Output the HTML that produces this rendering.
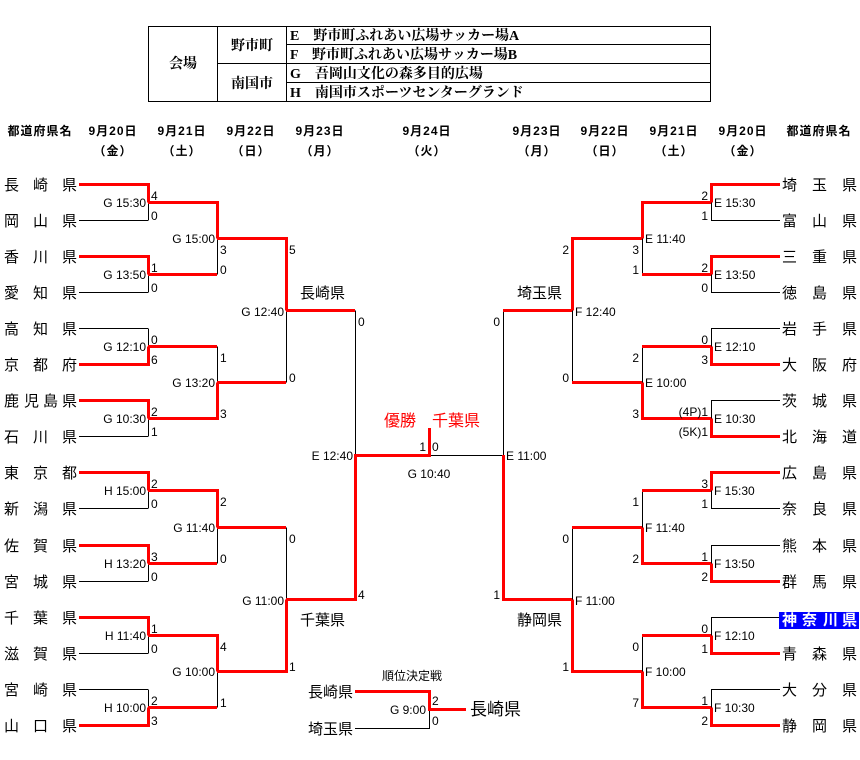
<!DOCTYPE html>
<html><head><meta charset="utf-8"><style>
html,body{margin:0;padding:0;background:#fff;width:860px;height:760px;overflow:hidden}
svg{display:block}
text{font-family:"Liberation Sans","Noto Sans CJK JP",sans-serif;fill:#000}
.t{font-size:12px}
.n{font-size:15px}
.h{font-size:12px;font-weight:bold;letter-spacing:1px}
.tb{font-family:"Liberation Serif","Noto Serif CJK JP","Noto Serif CJK SC",serif;font-size:14px;font-weight:bold}
.k{stroke:#000;stroke-width:1;fill:none}
.r{stroke:#f00;stroke-width:3;fill:none}
</style></head><body>
<svg width="860" height="760" viewBox="0 0 860 760" xmlns="http://www.w3.org/2000/svg">
<g class="k">
<rect x="148.5" y="26.5" width="562" height="75"/>
<line x1="217.5" y1="26.5" x2="217.5" y2="101.5"/>
<line x1="286.5" y1="26.5" x2="286.5" y2="101.5"/>
<line x1="217.5" y1="63.5" x2="710.5" y2="63.5"/>
<line x1="286.5" y1="44.5" x2="710.5" y2="44.5"/>
<line x1="286.5" y1="82.5" x2="710.5" y2="82.5"/>
</g>
<text class="tb" x="183" y="68" text-anchor="middle">会場</text>
<text class="tb" x="252" y="50" text-anchor="middle">野市町</text>
<text class="tb" x="252" y="88" text-anchor="middle">南国市</text>
<text class="tb" x="290" y="40">E　野市町ふれあい広場サッカー場A</text>
<text class="tb" x="290" y="59">F　野市町ふれあい広場サッカー場B</text>
<text class="tb" x="290" y="78">G　吾岡山文化の森多目的広場</text>
<text class="tb" x="290" y="97">H　南国市スポーツセンターグランド</text>

<g class="h" text-anchor="middle">
<text x="40" y="135">都道府県名</text>
<text x="113" y="135">9月20日</text><text x="113" y="155">（金）</text>
<text x="182" y="135">9月21日</text><text x="182" y="155">（土）</text>
<text x="251" y="135">9月22日</text><text x="251" y="155">（日）</text>
<text x="320" y="135">9月23日</text><text x="320" y="155">（月）</text>
<text x="427" y="135">9月24日</text><text x="427" y="155">（火）</text>
<text x="537" y="135">9月23日</text><text x="537" y="155">（月）</text>
<text x="605" y="135">9月22日</text><text x="605" y="155">（日）</text>
<text x="674" y="135">9月21日</text><text x="674" y="155">（土）</text>
<text x="743" y="135">9月20日</text><text x="743" y="155">（金）</text>
<text x="819" y="135">都道府県名</text>
</g>

<g class="k">
<path d="M79 220.5H148M79 292.5H148M79 328.5H148M79 436.5H148M79 508.5H148M79 581.5H148M79 653.5H148M79 689.5H148"/>
<path d="M148.5 202.5V220.5M148.5 274.5V292.5M148.5 328.5V346.5M148.5 418.5V436.5M148.5 490.5V508.5M148.5 563.5V581.5M148.5 635.5V653.5M148.5 689.5V707.5"/>
<path d="M217.5 238.5V274.5M217.5 346.5V382.5M217.5 527.5V563.5M217.5 671.5V707.5"/>
<path d="M286.5 310.5V382.5M286.5 527.5V599.5"/>
<path d="M355.5 310.5V455"/>
<path d="M711 220.5H780M711 292.5H780M711 328.5H780M711 400.5H780M711 508.5H780M711 545.5H780M711 617.5H780M711 689.5H780"/>
<path d="M711.5 202.5V220.5M711.5 274.5V292.5M711.5 328.5V346.5M711.5 400.5V418.5M711.5 490.5V508.5M711.5 545.5V563.5M711.5 617.5V635.5M711.5 689.5V707.5"/>
<path d="M642.5 238.5V274.5M642.5 346.5V382.5M642.5 490.5V527.5M642.5 635.5V671.5"/>
<path d="M572.5 310.5V382.5M572.5 527.5V599.5"/>
<path d="M503.5 310.5V455"/>
<path d="M429 455.5H503"/>
<path d="M355 728.5H429.5V709.5"/>
</g>

<g class="r">
<path d="M79 184.5H148.5V202.5M79 256.5H148.5V274.5M79 364.5H148.5V346.5M79 400.5H148.5V418.5M79 472.5H148.5V490.5M79 545.5H148.5V563.5M79 617.5H148.5V635.5M79 725.5H148.5V707.5"/>
<path d="M148 202.5H217.5V238.5M148 274.5H217M148 346.5H217M148 418.5H217.5V382.5M148 490.5H217.5V527.5M148 563.5H217M148 635.5H217.5V671.5M148 707.5H217"/>
<path d="M217 238.5H286.5V310.5M217 382.5H286M217 527.5H286M217 671.5H286.5V599.5"/>
<path d="M286 310.5H355M286 599.5H355.5V455.5H429.5V428"/>
<path d="M780 184.5H711.5V202.5M780 256.5H711.5V274.5M780 364.5H711.5V346.5M780 436.5H711.5V418.5M780 472.5H711.5V490.5M780 581.5H711.5V563.5M780 653.5H711.5V635.5M780 725.5H711.5V707.5"/>
<path d="M711 202.5H642.5V238.5M711 274.5H642M711 346.5H642M711 418.5H642.5V382.5M711 490.5H642M711 563.5H642.5V527.5M711 635.5H642M711 707.5H642.5V671.5"/>
<path d="M642 238.5H572.5V310.5M642 382.5H572M642 527.5H572M642 671.5H572.5V599.5"/>
<path d="M572 310.5H503M572 599.5H503.5V455"/>
<path d="M355 691.5H429.5V709.5H466"/>
</g>

<g class="n">
<text y="190"><tspan x="4">長</tspan><tspan x="33">崎</tspan><tspan x="62">県</tspan></text>
<text y="226"><tspan x="4">岡</tspan><tspan x="33">山</tspan><tspan x="62">県</tspan></text>
<text y="262"><tspan x="4">香</tspan><tspan x="33">川</tspan><tspan x="62">県</tspan></text>
<text y="298"><tspan x="4">愛</tspan><tspan x="33">知</tspan><tspan x="62">県</tspan></text>
<text y="334"><tspan x="4">高</tspan><tspan x="33">知</tspan><tspan x="62">県</tspan></text>
<text y="370"><tspan x="4">京</tspan><tspan x="33">都</tspan><tspan x="62">府</tspan></text>
<text y="406"><tspan x="4">鹿</tspan><tspan x="24">児</tspan><tspan x="43">島</tspan><tspan x="62">県</tspan></text>
<text y="442"><tspan x="4">石</tspan><tspan x="33">川</tspan><tspan x="62">県</tspan></text>
<text y="478"><tspan x="4">東</tspan><tspan x="33">京</tspan><tspan x="62">都</tspan></text>
<text y="514"><tspan x="4">新</tspan><tspan x="33">潟</tspan><tspan x="62">県</tspan></text>
<text y="551"><tspan x="4">佐</tspan><tspan x="33">賀</tspan><tspan x="62">県</tspan></text>
<text y="587"><tspan x="4">宮</tspan><tspan x="33">城</tspan><tspan x="62">県</tspan></text>
<text y="623"><tspan x="4">千</tspan><tspan x="33">葉</tspan><tspan x="62">県</tspan></text>
<text y="659"><tspan x="4">滋</tspan><tspan x="33">賀</tspan><tspan x="62">県</tspan></text>
<text y="695"><tspan x="4">宮</tspan><tspan x="33">崎</tspan><tspan x="62">県</tspan></text>
<text y="731"><tspan x="4">山</tspan><tspan x="33">口</tspan><tspan x="62">県</tspan></text>
</g>
<rect x="779" y="612" width="80" height="17" fill="#0000ff"/>
<g class="n">
<text y="190"><tspan x="782">埼</tspan><tspan x="812">玉</tspan><tspan x="842">県</tspan></text>
<text y="226"><tspan x="782">富</tspan><tspan x="812">山</tspan><tspan x="842">県</tspan></text>
<text y="262"><tspan x="782">三</tspan><tspan x="812">重</tspan><tspan x="842">県</tspan></text>
<text y="298"><tspan x="782">徳</tspan><tspan x="812">島</tspan><tspan x="842">県</tspan></text>
<text y="334"><tspan x="782">岩</tspan><tspan x="812">手</tspan><tspan x="842">県</tspan></text>
<text y="370"><tspan x="782">大</tspan><tspan x="812">阪</tspan><tspan x="842">府</tspan></text>
<text y="406"><tspan x="782">茨</tspan><tspan x="812">城</tspan><tspan x="842">県</tspan></text>
<text y="442"><tspan x="782">北</tspan><tspan x="812">海</tspan><tspan x="842">道</tspan></text>
<text y="478"><tspan x="782">広</tspan><tspan x="812">島</tspan><tspan x="842">県</tspan></text>
<text y="514"><tspan x="782">奈</tspan><tspan x="812">良</tspan><tspan x="842">県</tspan></text>
<text y="551"><tspan x="782">熊</tspan><tspan x="812">本</tspan><tspan x="842">県</tspan></text>
<text y="587"><tspan x="782">群</tspan><tspan x="812">馬</tspan><tspan x="842">県</tspan></text>
<text y="625" style="fill:#fff;font-weight:bold"><tspan x="782">神</tspan><tspan x="802">奈</tspan><tspan x="823">川</tspan><tspan x="842">県</tspan></text>
<text y="659"><tspan x="782">青</tspan><tspan x="812">森</tspan><tspan x="842">県</tspan></text>
<text y="695"><tspan x="782">大</tspan><tspan x="812">分</tspan><tspan x="842">県</tspan></text>
<text y="731"><tspan x="782">静</tspan><tspan x="812">岡</tspan><tspan x="842">県</tspan></text>
</g>

<g class="t" text-anchor="end">
<text x="146" y="207">G 15:30</text><text x="146" y="279">G 13:50</text><text x="146" y="351">G 12:10</text><text x="146" y="423">G 10:30</text>
<text x="146" y="495">H 15:00</text><text x="146" y="568">H 13:20</text><text x="146" y="640">H 11:40</text><text x="146" y="712">H 10:00</text>
<text x="215" y="243">G 15:00</text><text x="215" y="387">G 13:20</text><text x="215" y="532">G 11:40</text><text x="215" y="676">G 10:00</text>
<text x="284" y="316">G 12:40</text><text x="284" y="605">G 11:00</text>
<text x="353" y="460">E 12:40</text>
</g>
<g class="t">
<text x="151" y="200">4</text><text x="151" y="220">0</text>
<text x="151" y="272">1</text><text x="151" y="292">0</text>
<text x="151" y="344">0</text><text x="151" y="364">6</text>
<text x="151" y="416">2</text><text x="151" y="436">1</text>
<text x="151" y="488">2</text><text x="151" y="508">0</text>
<text x="151" y="561">3</text><text x="151" y="581">0</text>
<text x="151" y="633">1</text><text x="151" y="653">0</text>
<text x="151" y="705">2</text><text x="151" y="725">3</text>
<text x="220" y="254">3</text><text x="220" y="274">0</text>
<text x="220" y="362">1</text><text x="220" y="418">3</text>
<text x="220" y="506">2</text><text x="220" y="563">0</text>
<text x="220" y="651">4</text><text x="220" y="707">1</text>
<text x="289" y="254">5</text><text x="289" y="382">0</text>
<text x="289" y="543">0</text><text x="289" y="671">1</text>
<text x="358" y="326">0</text><text x="358" y="599">4</text>
</g>
<g class="t">
<text x="714" y="207">E 15:30</text><text x="714" y="279">E 13:50</text><text x="714" y="351">E 12:10</text><text x="714" y="423">E 10:30</text>
<text x="714" y="495">F 15:30</text><text x="714" y="568">F 13:50</text><text x="714" y="640">F 12:10</text><text x="714" y="712">F 10:30</text>
<text x="645" y="243">E 11:40</text><text x="645" y="387">E 10:00</text><text x="645" y="532">F 11:40</text><text x="645" y="676">F 10:00</text>
<text x="575" y="316">F 12:40</text><text x="575" y="605">F 11:00</text>
<text x="506" y="460">E 11:00</text>
</g>
<g class="t" text-anchor="end">
<text x="708" y="200">2</text><text x="708" y="220">1</text>
<text x="708" y="272">2</text><text x="708" y="292">0</text>
<text x="708" y="344">0</text><text x="708" y="364">3</text>
<text x="708" y="416">(4P)1</text><text x="708" y="436">(5K)1</text>
<text x="708" y="488">3</text><text x="708" y="508">1</text>
<text x="708" y="561">1</text><text x="708" y="581">2</text>
<text x="708" y="633">0</text><text x="708" y="653">1</text>
<text x="708" y="705">1</text><text x="708" y="725">2</text>
<text x="639" y="254">3</text><text x="639" y="274">1</text>
<text x="639" y="362">2</text><text x="639" y="418">3</text>
<text x="639" y="506">1</text><text x="639" y="563">2</text>
<text x="639" y="651">0</text><text x="639" y="707">7</text>
<text x="569" y="254">2</text><text x="569" y="382">0</text>
<text x="569" y="543">0</text><text x="569" y="671">1</text>
<text x="500" y="326">0</text><text x="500" y="599">1</text>
</g>

<g class="n">
<text x="300" y="298">長崎県</text>
<text x="300" y="625">千葉県</text>
<text x="517" y="298">埼玉県</text>
<text x="517" y="625">静岡県</text>
</g>
<text x="384" y="426" style="font-size:16px;fill:#f00">優勝　千葉県</text>
<text class="t" x="426" y="451" text-anchor="end">1</text>
<text class="t" x="432" y="451">0</text>
<text class="t" x="429" y="478" text-anchor="middle">G 10:40</text>

<text class="t" x="412" y="680" text-anchor="middle">順位決定戦</text>
<text class="n" x="308" y="697">長崎県</text>
<text class="n" x="308" y="734">埼玉県</text>
<text class="t" x="426" y="714" text-anchor="end">G 9:00</text>
<text class="t" x="432" y="705">2</text>
<text class="t" x="432" y="725">0</text>
<text x="470" y="715" style="font-size:17px">長崎県</text>
</svg>
</body></html>
